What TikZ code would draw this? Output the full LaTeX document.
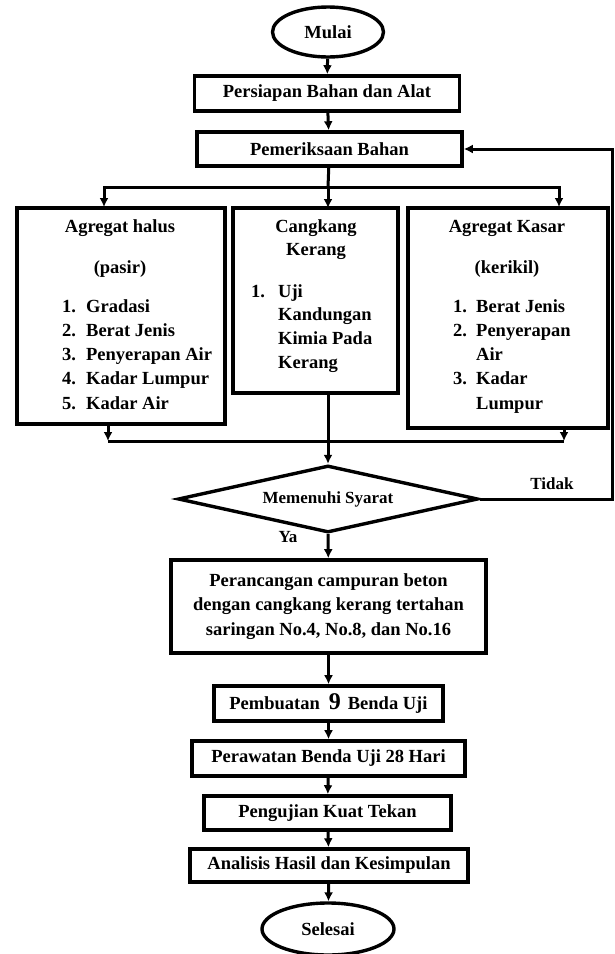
\documentclass[tikz,border=0pt]{standalone}
\usepackage{fontspec}
\setmainfont{Liberation Serif}
\usetikzlibrary{arrows, arrows.meta, shapes.geometric}

\begin{document}
\begin{tikzpicture}[x = 1pt, y = -1pt, font = \bfseries\fontsize{18.5}{24.3}\selectfont]
\tikzstyle{BoxStyle}=[shape = rectangle,
                      draw,
                      line width = 3.6pt,
                      inner sep = 0pt,
                      align = center]
\tikzstyle{EllStyle}=[shape = ellipse, draw, line width = 3.4pt, inner sep = 0pt]
\tikzstyle{DecStyle}=[shape = diamond, draw, line width = 3.4pt, inner sep = 0pt, aspect = 4.4]
\tikzstyle{TxtStyle}=[inner sep = 0pt]
\tikzstyle{LineStyle}=[line width = 3pt]
\tikzstyle{ArrowStyle}=[line width = 3pt, -{Latex[length = 9pt, width = 9pt]}]
\useasboundingbox (0,0) rectangle (614,954);
% main column
\node[EllStyle, minimum width = 111pt, minimum height = 50pt] (mulai) at (328,32) {Mulai};
\node[BoxStyle, minimum width = 265pt, minimum height = 35pt] (persiapan) at (327,93.5) {Persiapan Bahan dan Alat};
\node[BoxStyle, minimum width = 265pt, minimum height = 34pt] (periksa) at (329.5,149) {Pemeriksaan Bahan};
% the three material boxes
\node[BoxStyle, minimum width = 208pt, minimum height = 216pt] (halus) at (121,316) {};
\node[BoxStyle, minimum width = 165pt, minimum height = 185pt] (kerang) at (315.5,300.5) {};
\node[BoxStyle, minimum width = 200pt, minimum height = 220pt] (kasar) at (508,318) {};
\node[TxtStyle, anchor = base] (halusT) at (120,232) {Agregat halus};
\node[TxtStyle, anchor = base] (halusS) at (120,273) {(pasir)};
\node[TxtStyle, anchor = base west] (halusL) at (62,312) {\begin{tabular}[t]{@{}p{24pt}@{}l@{}}
1. & Gradasi\\ 2. & Berat Jenis\\ 3. & Penyerapan Air\\ 4. & Kadar Lumpur\\ 5. & Kadar Air
\end{tabular}};
\node[TxtStyle, anchor = base] (kerangT) at (316,232) {\begin{tabular}[t]{@{}c@{}}
Cangkang\\[-1pt] Kerang
\end{tabular}};
\node[TxtStyle, anchor = base west] (kerangL) at (251,297) {\begin{tabular}[t]{@{}p{27pt}@{}l@{}}
1. & Uji\\[-0.5pt] & Kandungan\\[-0.5pt] & Kimia Pada\\[-0.5pt] & Kerang
\end{tabular}};
\node[TxtStyle, anchor = base] (kasarT) at (507,232) {Agregat Kasar};
\node[TxtStyle, anchor = base] (kasarS) at (507,273) {(kerikil)};
\node[TxtStyle, anchor = base west] (kasarL) at (453,312) {\begin{tabular}[t]{@{}p{23pt}@{}l@{}}
1. & Berat Jenis\\ 2. & Penyerapan\\ & Air\\ 3. & Kadar\\ & Lumpur
\end{tabular}};
% decision and the rest
\node[DecStyle, minimum width = 300pt, minimum height = 67pt, font = \bfseries\fontsize{17}{20}\selectfont] (syarat) at (328,499) {Memenuhi Syarat};
\node[BoxStyle, minimum width = 315pt, minimum height = 93pt] (rancang) at (328.5,606.5) {Perancangan campuran beton\\ dengan cangkang kerang tertahan\\ saringan No.4, No.8, dan No.16};
\node[BoxStyle, minimum width = 229pt, minimum height = 35pt] (buat) at (328.5,703.5) {Pembuatan\hspace{9pt}{\fontsize{24}{24}\selectfont 9}\hspace{7pt}Benda Uji};
\node[BoxStyle, minimum width = 273pt, minimum height = 35pt] (rawat) at (328.5,758.5) {Perawatan Benda Uji 28 Hari};
\node[BoxStyle, minimum width = 247pt, minimum height = 34pt] (uji) at (327.5,813) {Pengujian Kuat Tekan};
\node[BoxStyle, minimum width = 278pt, minimum height = 33pt] (analisis) at (329,865.5) {Analisis Hasil dan Kesimpulan};
\node[EllStyle, minimum width = 132pt, minimum height = 52pt] (selesai) at (328,929) {Selesai};
\node[TxtStyle, font = \bfseries\fontsize{17}{20}\selectfont] (ya) at (288,537) {Ya};
\node[TxtStyle, font = \bfseries\fontsize{17}{20}\selectfont] (tidak) at (552,484) {Tidak};
% helper points
\coordinate (split) at (328,187);
\coordinate (inH) at (104,207);
\coordinate (inK) at (328,208);
\coordinate (inR) at (559,207);
\coordinate (outH) at (108,424);
\coordinate (outK) at (328,393);
\coordinate (outR) at (564,428);
\coordinate (joinH) at (108,441);
\coordinate (joinK) at (328,441);
\coordinate (joinR) at (564,441);
\coordinate (back) at (612,499);
% connectors
\draw[ArrowStyle] (mulai) -- (persiapan);
\draw[ArrowStyle] (persiapan) -- (periksa);
\draw[LineStyle] (periksa) -- (split);
\draw[ArrowStyle] (split) -| (inH);
\draw[ArrowStyle] (split) -- (inK);
\draw[ArrowStyle] (split) -| (inR);
\draw[ArrowStyle] (outH) -- (joinH);
\draw[ArrowStyle] (outR) -- (joinR);
\draw[LineStyle] (joinH) -- (joinR);
\draw[ArrowStyle] (outK) -- (syarat.north);
\draw[ArrowStyle] (syarat) -- (rancang);
\draw[ArrowStyle] (syarat.east) -- (back) |- (periksa.east);
\draw[ArrowStyle] (rancang) -- (buat);
\draw[ArrowStyle] (buat) -- (rawat);
\draw[ArrowStyle] (rawat) -- (uji);
\draw[ArrowStyle] (uji) -- (analisis);
\draw[ArrowStyle] (analisis) -- (selesai);
\end{tikzpicture}
\end{document}
